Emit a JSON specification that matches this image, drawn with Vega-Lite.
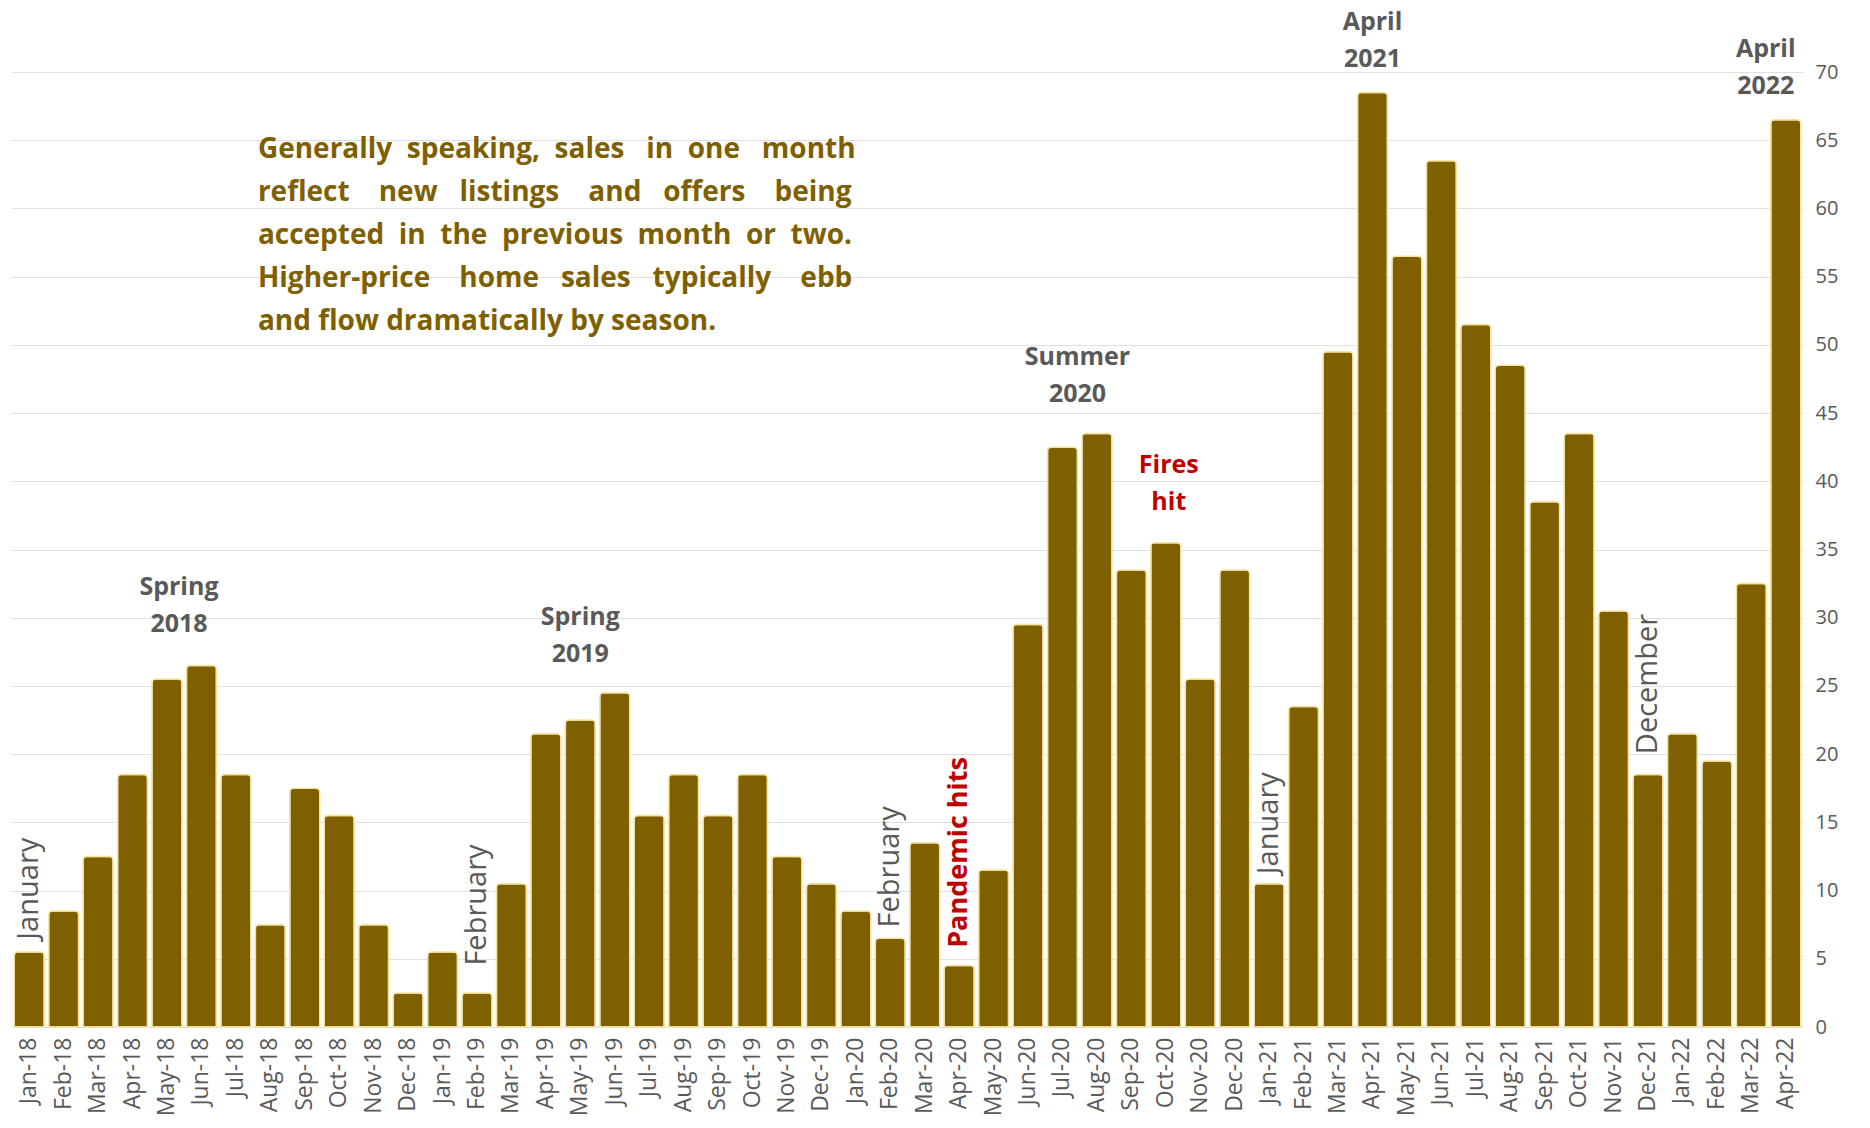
{
  "$schema": "https://vega.github.io/schema/vega-lite/v6.json",
  "autosize": {"type": "none"},
  "width": 1791,
  "height": 955,
  "padding": {"left": 12, "top": 72, "right": 67, "bottom": 101},
  "background": "white",
  "config": {
    "font": "Open Sans",
    "view": {"stroke": null},
    "axis": {"labelFont": "Open Sans", "labelColor": "#595959"}
  },
  "encoding": {
    "x": {
      "field": "month", "type": "nominal", "sort": null, "title": null,
      "scale": {"paddingInner": 0.13, "paddingOuter": 0.065},
      "axis": {"labelAngle": -90, "labelFontSize": 23, "ticks": false, "domain": false, "labelPadding": 10, "grid": false}
    },
    "y": {
      "field": "value", "type": "quantitative", "title": null,
      "scale": {"domain": [0, 70], "nice": false},
      "axis": {"orient": "right", "values": [0,5,10,15,20,25,30,35,40,45,50,55,60,65,70], "labelFontSize": 20, "ticks": false, "domain": false, "labelPadding": 12, "gridColor": "#e0e0e0", "gridWidth": 1.2}
    }
  },
  "layer": [
    {
      "data": {"values": [
        {"month": "Jan-18", "value": 5.5}, {"month": "Feb-18", "value": 8.5}, {"month": "Mar-18", "value": 12.5},
        {"month": "Apr-18", "value": 18.5}, {"month": "May-18", "value": 25.5}, {"month": "Jun-18", "value": 26.5},
        {"month": "Jul-18", "value": 18.5}, {"month": "Aug-18", "value": 7.5}, {"month": "Sep-18", "value": 17.5},
        {"month": "Oct-18", "value": 15.5}, {"month": "Nov-18", "value": 7.5}, {"month": "Dec-18", "value": 2.5},
        {"month": "Jan-19", "value": 5.5}, {"month": "Feb-19", "value": 2.5}, {"month": "Mar-19", "value": 10.5},
        {"month": "Apr-19", "value": 21.5}, {"month": "May-19", "value": 22.5}, {"month": "Jun-19", "value": 24.5},
        {"month": "Jul-19", "value": 15.5}, {"month": "Aug-19", "value": 18.5}, {"month": "Sep-19", "value": 15.5},
        {"month": "Oct-19", "value": 18.5}, {"month": "Nov-19", "value": 12.5}, {"month": "Dec-19", "value": 10.5},
        {"month": "Jan-20", "value": 8.5}, {"month": "Feb-20", "value": 6.5}, {"month": "Mar-20", "value": 13.5},
        {"month": "Apr-20", "value": 4.5}, {"month": "May-20", "value": 11.5}, {"month": "Jun-20", "value": 29.5},
        {"month": "Jul-20", "value": 42.5}, {"month": "Aug-20", "value": 43.5}, {"month": "Sep-20", "value": 33.5},
        {"month": "Oct-20", "value": 35.5}, {"month": "Nov-20", "value": 25.5}, {"month": "Dec-20", "value": 33.5},
        {"month": "Jan-21", "value": 10.5}, {"month": "Feb-21", "value": 23.5}, {"month": "Mar-21", "value": 49.5},
        {"month": "Apr-21", "value": 68.5}, {"month": "May-21", "value": 56.5}, {"month": "Jun-21", "value": 63.5},
        {"month": "Jul-21", "value": 51.5}, {"month": "Aug-21", "value": 48.5}, {"month": "Sep-21", "value": 38.5},
        {"month": "Oct-21", "value": 43.5}, {"month": "Nov-21", "value": 30.5}, {"month": "Dec-21", "value": 18.5},
        {"month": "Jan-22", "value": 21.5}, {"month": "Feb-22", "value": 19.5}, {"month": "Mar-22", "value": 32.5},
        {"month": "Apr-22", "value": 66.5}
      ]},
      "mark": {"type": "bar", "color": "#7F6000", "stroke": "#F5E3A3", "strokeWidth": 1.5, "cornerRadiusTopLeft": 4, "cornerRadiusTopRight": 4}
    },
    {
      "data": {"values": [
        {"month": "Jan-18", "value": 6.4, "label": "January"},
        {"month": "Feb-19", "value": 4.5, "label": "February"},
        {"month": "Feb-20", "value": 7.3, "label": "February"},
        {"month": "Jan-21", "value": 11.2, "label": "January"},
        {"month": "Dec-21", "value": 20.0, "label": "December"}
      ]},
      "mark": {"type": "text", "angle": 270, "align": "left", "baseline": "middle", "font": "Open Sans", "fontSize": 29, "color": "#595959"},
      "encoding": {"text": {"field": "label"}}
    },
    {
      "data": {"values": [
        {"month": "Apr-20", "value": 5.8, "label": "Pandemic hits"}
      ]},
      "mark": {"type": "text", "angle": 270, "align": "left", "baseline": "middle", "font": "Open Sans", "fontSize": 27, "fontWeight": "bold", "color": "#C00000"},
      "encoding": {"text": {"field": "label"}}
    },
    {
      "data": {"values": [
        {"month": "May-19", "value": 29.5, "label": "Spring\n2019"},
        {"month": "Apr-21", "value": 73.1, "label": "April\n2021"}
      ]},
      "mark": {"type": "text", "align": "center", "baseline": "alphabetic", "lineBreak": "\n", "lineHeight": 37, "font": "Open Sans", "fontSize": 25, "fontWeight": "bold", "color": "#595959"},
      "encoding": {"text": {"field": "label"}}
    },
    {
      "data": {"values": [
        {"month": "May-18", "value": 31.7, "label": "Spring\n2018"}
      ]},
      "mark": {"type": "text", "align": "center", "baseline": "alphabetic", "dx": 12, "lineBreak": "\n", "lineHeight": 37, "font": "Open Sans", "fontSize": 25, "fontWeight": "bold", "color": "#595959"},
      "encoding": {"text": {"field": "label"}}
    },
    {
      "data": {"values": [
        {"month": "Jul-20", "value": 48.5, "label": "Summer\n2020"}
      ]},
      "mark": {"type": "text", "align": "center", "baseline": "alphabetic", "dx": 15, "lineBreak": "\n", "lineHeight": 37, "font": "Open Sans", "fontSize": 25, "fontWeight": "bold", "color": "#595959"},
      "encoding": {"text": {"field": "label"}}
    },
    {
      "data": {"values": [
        {"month": "Apr-22", "value": 71.1, "label": "April\n2022"}
      ]},
      "mark": {"type": "text", "align": "center", "baseline": "alphabetic", "dx": -20, "lineBreak": "\n", "lineHeight": 37, "font": "Open Sans", "fontSize": 25, "fontWeight": "bold", "color": "#595959"},
      "encoding": {"text": {"field": "label"}}
    },
    {
      "data": {"values": [
        {"month": "Oct-20", "value": 40.6, "label": "Fires\nhit"}
      ]},
      "mark": {"type": "text", "align": "center", "baseline": "alphabetic", "dx": 3, "lineBreak": "\n", "lineHeight": 37, "font": "Open Sans", "fontSize": 25, "fontWeight": "bold", "color": "#C00000"},
      "encoding": {"text": {"field": "label"}}
    },
    {
      "data": {"values": [
        {"month": "Jul-18", "value": 63.7, "label": "Generally \u00a0speaking, \u00a0sales \u00a0\u00a0in \u00a0one \u00a0\u00a0month\nreflect \u00a0\u00a0\u00a0new \u00a0\u00a0listings \u00a0\u00a0\u00a0and \u00a0\u00a0offers \u00a0\u00a0\u00a0being\naccepted \u00a0in \u00a0the \u00a0previous \u00a0month \u00a0or \u00a0two.\nHigher-price \u00a0\u00a0\u00a0home \u00a0\u00a0sales \u00a0\u00a0typically \u00a0\u00a0\u00a0ebb\nand flow dramatically by season."}
      ]},
      "mark": {"type": "text", "align": "left", "baseline": "alphabetic", "dx": 22, "lineBreak": "\n", "lineHeight": 43, "font": "Open Sans", "fontSize": 28, "fontWeight": "bold", "color": "#7F6000"},
      "encoding": {"text": {"field": "label"}}
    }
  ]
}
